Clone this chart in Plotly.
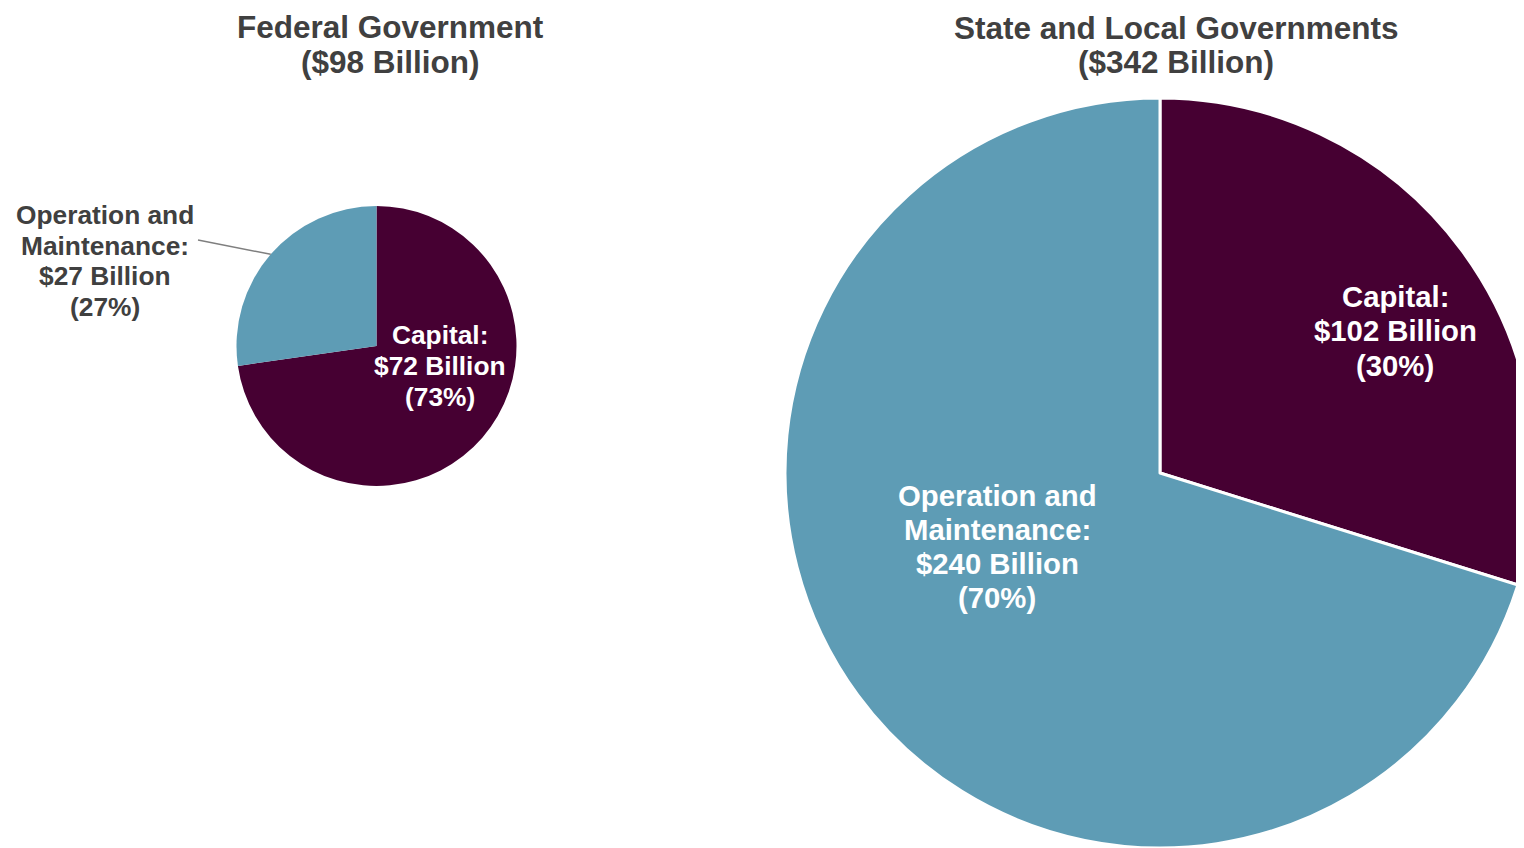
import math
import plotly.graph_objects as go

# The page body has an 8px default margin; the figure is sized so that the
# visible 1524x848 window shows the same framing as the reference.
OFF = 8
W, H = 1530, 842

categories = ["Capital", "Operation and Maintenance"]
category_lines = [["Capital:"], ["Operation and", "Maintenance:"]]
federal_values = [72, 27]
federal_pcts = [73, 27]
federal_total = 98
state_values = [102, 240]
state_pcts = [30, 70]
state_total = 342

colors = ["#460032", "#5E9CB5"]
dark = "#404040"
FONT = "Liberation Sans, Arial, sans-serif"


def px_x(sx):
    return (sx - OFF) / W


def px_y(sy):
    return 1 - (sy - OFF) / H


fig = go.Figure()

# Federal pie: screen box [237, 516] x [206, 486]
fig.add_trace(go.Pie(
    labels=categories, values=federal_values, sort=False, direction="clockwise",
    rotation=0, textinfo="none", hoverinfo="label+value+percent",
    marker=dict(colors=colors, line=dict(width=0)),
    domain=dict(x=[px_x(236.5), px_x(516.5)], y=[px_y(486), px_y(206)]),
    showlegend=False,
))

# State & local pie: screen box [785, 1535] x [98, 848]
fig.add_trace(go.Pie(
    labels=categories, values=state_values, sort=False, direction="clockwise",
    rotation=0, textinfo="none", hoverinfo="label+value+percent",
    marker=dict(colors=colors, line=dict(width=3, color="white")),
    domain=dict(x=[px_x(785), px_x(1535)], y=[px_y(848), px_y(98)]),
    showlegend=False,
))


def ann_lines(lines, x, y0, step, size, color):
    for i, line in enumerate(lines):
        fig.add_annotation(
            text=line, x=px_x(x), y=px_y(y0 + i * step), xref="paper", yref="paper",
            xanchor="center", yanchor="middle", showarrow=False, align="center",
            font=dict(family=FONT, size=size, color=color, weight="bold"),
        )


def slice_lines(k, values, pcts):
    return category_lines[k] + [f"${values[k]} Billion", f"({pcts[k]}%)"]


# Titles
ann_lines(["Federal Government", f"(${federal_total} Billion)"], 390, 27, 34.5, 31.5, dark)
ann_lines(["State and Local Governments", f"(${state_total} Billion)"], 1176, 27.5, 34.5, 31.5, dark)

# Federal labels
ann_lines(slice_lines(0, federal_values, federal_pcts), 440, 334.5, 31.5, 26.3, "white")
ann_lines(slice_lines(1, federal_values, federal_pcts), 105, 215, 30.7, 26.3, dark)

# State labels
ann_lines(slice_lines(0, state_values, state_pcts), 1395, 296, 34.5, 29.3, "white")
ann_lines(slice_lines(1, state_values, state_pcts), 997, 495, 34, 29.3, "white")

# Leader line for federal O&M label, ending at the slice's mid-angle on the rim
cx, cy, r = 376.5, 346, 140
frac_start = federal_values[0] / sum(federal_values)
mid = (frac_start + 0.5 * federal_values[1] / sum(federal_values)) * 2 * math.pi
ex, ey = cx + r * math.sin(mid), cy - r * math.cos(mid)
fig.add_shape(type="line", xref="paper", yref="paper",
              x0=px_x(198), y0=px_y(240), x1=px_x(ex), y1=px_y(ey),
              line=dict(color="#7F7F7F", width=1.5))

fig.update_layout(
    width=W, height=H,
    margin=dict(l=0, r=0, t=0, b=0),
    paper_bgcolor="white", plot_bgcolor="white",
    font=dict(family=FONT),
)

fig.write_html("out.html")
